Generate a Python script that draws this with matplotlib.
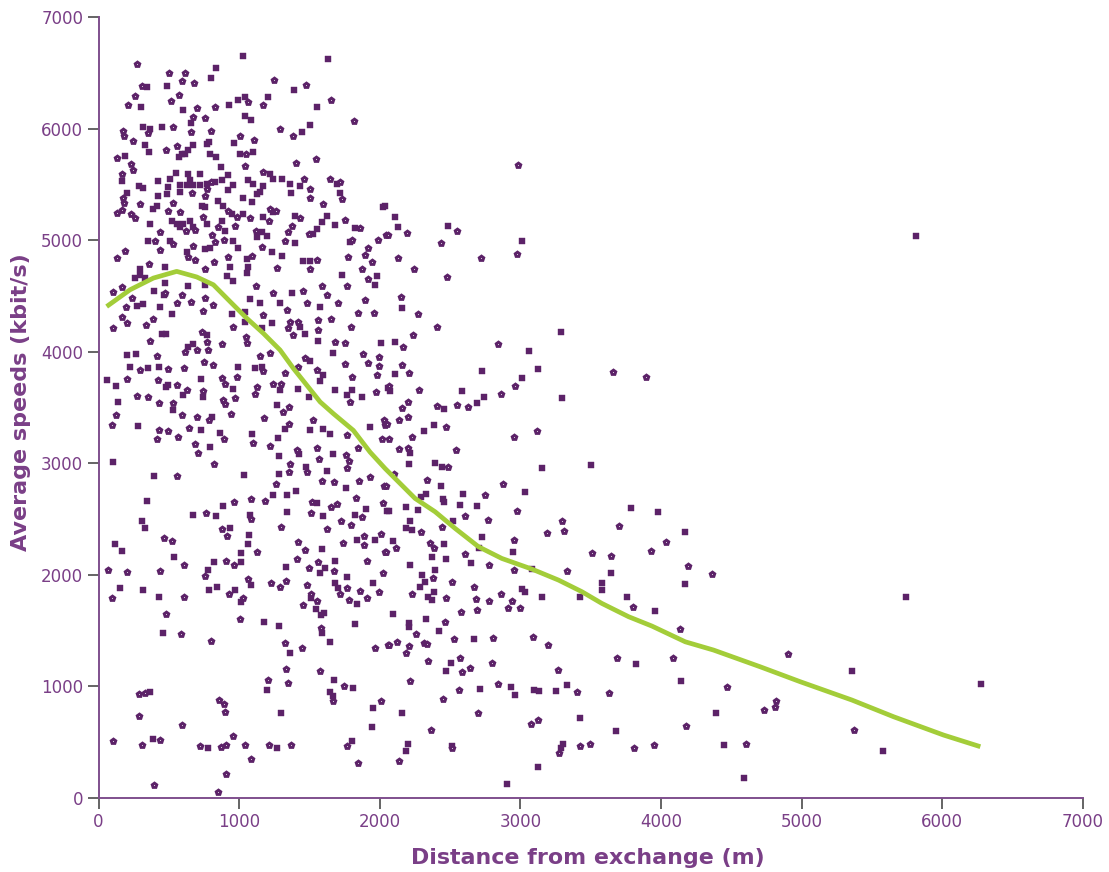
# Scatter of line speed against distance from the exchange, with a smoothed trend line.
import matplotlib
matplotlib.use("Agg")
import matplotlib.pyplot as plt

# (distance m, speed kbit/s), hollow markers
rings_upper = [(277,6580),(504,6500),(613,6500),(594,6430),(682,6410),(312,6385),(1250,6435),(1476,6390),(570,6300),(518,6250),(260,6290),(208,6215),(700,6185),(826,6190),(1060,6235),(1172,6215),(1650,6255),(1820,6070),(760,6095),(675,6105),(660,5965),(800,5975),(172,5975),(182,5930),(248,5890),(530,6010),(350,5960),(1007,5930),(1106,5895),(1291,5995),(1381,5930),(480,5810),(556,5840),(134,5735),(232,5685),(246,5630),(1547,5730),(1407,5690),(1042,5665),(1047,5775),(165,5595),(1172,5610),(1459,5550),(1649,5550),(1717,5520),(1504,5460),(1504,5375),(1730,5365),(1594,5325),(177,5380),(182,5330),(130,5245),(170,5270),(234,5230),(262,5195),(298,5320),(492,5260),(582,5250),(528,5330),(663,5425),(758,5395),(770,5460),(798,5525),(919,5260),(983,5210),(1078,5195),(1220,5275),(1262,5265),(1210,5175),(1433,5195),(1374,5130),(1350,5070),(1326,4995),(1500,5055),(1753,5185),(1860,5110),(1800,5000),(1985,5005),(2047,5050),(1919,4930),(1895,4870),(1943,4800),(1777,4850),(1552,4825),(1267,4750),(1160,4935),(1118,5080),(893,5005),(829,4980),(805,5050),(741,5205),(971,5125),(852,5115),(687,5095),(623,5080),(438,5075),(402,4990),(532,4965),(438,4915),(670,4950),(639,4845),(687,4820),(822,4800),(924,4850),(1094,4855),(189,4900),(130,4840),(362,4790),(758,4740),(1504,4740),(1870,4740)]
rings_middle = [(101,4537),(170,4576),(236,4480),(194,4405),(170,4315),(201,4255),(101,4216),(336,4240),(390,4294),(473,4525),(556,4441),(592,4510),(658,4444),(758,4480),(746,4369),(817,4423),(1118,4585),(1239,4525),(1338,4375),(1457,4540),(1480,4435),(1627,4510),(1587,4585),(1706,4441),(1895,4465),(1959,4345),(1848,4345),(1919,4650),(1765,4585),(1172,4330),(959,4220),(1047,4135),(1054,4075),(1362,4270),(1421,4270),(1350,4210),(1381,4150),(1559,4285),(1563,4195),(1654,4294),(1793,4219),(734,4180),(770,4090),(781,4015),(876,4069),(367,4099),(419,3964),(698,4015),(615,4000),(1682,4090),(1753,4081),(1883,3976),(1919,3901),(1997,3949),(1997,3871),(1983,3790),(1753,3886),(1805,3775),(1220,3985),(1149,3961),(1469,3940),(1421,3865),(1552,3835),(1326,3811),(1172,3826),(817,3880),(751,3904),(608,3850),(492,3841),(296,3835),(426,3745),(205,3754),(876,3760),(983,3769),(900,3709),(1113,3619),(1125,3685),(1244,3709),(1298,3709),(971,3589),(561,3706),(632,3655),(746,3649),(272,3601),(350,3595),(431,3541),(532,3544),(888,3571),(900,3529),(592,3430),(698,3415),(788,3385),(940,3445),(1177,3409),(1315,3460),(1355,3505),(1789,3550),(1971,3640),(2030,3391),(2037,3346),(2014,3220),(125,3430),(99,3346),(431,3301),(492,3286),(414,3220),(568,3235),(646,3319),(687,3175),(710,3091),(893,3214),(1101,3184),(1220,3154),(1355,3349),(1409,3115),(1552,3136),(1571,3040),(1528,3385),(1765,3250),(1848,3139),(1758,3076),(1784,3019),(1765,2956),(1362,2995),(1355,2926),(1480,2926),(1587,2845),(1677,2830),(1855,2845),(1931,2875),(2030,2800),(2021,2644),(1831,2686),(1694,2635),(1654,2611),(1516,2650),(1511,2551),(1725,2485),(1793,2449),(1872,2521),(824,2995),(561,2890),(1262,2815),(1085,2680),(1184,2665),(966,2650),(765,2554),(1085,2500),(1298,2425),(1627,2410),(876,2410)]
rings_lower = [(466,2330),(521,2300),(916,2345),(1125,2204),(905,2126),(964,2084),(611,2084),(438,2039),(70,2045),(201,2030),(758,1991),(1061,1964),(1227,1931),(1291,1895),(1331,1949),(1421,2291),(1469,2219),(1414,2141),(1500,2060),(1563,2111),(1677,2039),(1741,2285),(1907,2120),(2037,2204),(2026,2021),(1891,2270),(1888,2351),(2009,2369),(94,1790),(611,1805),(931,1829),(1030,1790),(1480,1910),(1511,1829),(1552,1769),(1457,1730),(1765,1880),(1718,1826),(1779,1778),(1860,1859),(1912,1790),(1997,1844),(1665,866),(478,1646),(585,1469),(798,1406),(1006,1601),(1326,1385),(1450,1340),(1582,1526),(1969,1340),(2056,1370),(1331,1154),(1575,1139),(1203,1061),(1350,1028),(1746,1001),(288,935),(331,941),(855,881),(893,839),(900,767),(288,737),(592,650),(106,509),(312,476),(438,521),(722,464),(869,461),(905,479),(954,554),(1042,476),(1213,479),(1369,476),(1082,350),(905,215),(395,119),(852,50),(1765,470),(1845,317),(2009,869)]
rings_far_top = [(2055,5050),(2192,5068),(2436,4976),(2552,5080),(2126,4841),(2244,4743),(2477,4668),(2721,4841),(2977,4874),(2152,4486),(2273,4342),(2405,4220),(2235,4154),(2166,4044),(2839,4065),(2157,3882),(2206,3808),(3660,3820),(3890,3772),(2066,3691),(2280,3655),(2963,3691),(2861,3620),(2550,3521),(2626,3506),(2408,3512),(2204,3551),(2157,3497),(2199,3416),(2138,3392),(2050,3351),(2474,3321),(3117,3288),(2956,3240),(2066,3222),(2230,3234),(2138,3124),(2199,3136),(2543,3121),(2104,2900),(2334,2849),(2045,2798),(2873,2813),(2749,2720),(2488,2968),(2985,5670)]
rings_far_low = [(2977,2571),(2607,2530),(2768,2491),(2441,2428),(2294,2380),(3299,2482),(3311,2392),(3186,2377),(3698,2440),(2951,2312),(4037,2294),(2116,2243),(2045,2201),(2358,2288),(2389,2237),(2607,2186),(3508,2198),(3646,2168),(3928,2210),(2773,2088),(2953,2040),(3328,2037),(2375,1968),(2512,1938),(2669,1893),(2232,1831),(2474,1789),(2861,1825),(2683,1780),(2773,1765),(2939,1768),(2915,1705),(2994,1699),(2688,1684),(2579,1663),(3802,1714),(4136,1517),(2462,1580),(2256,1466),(2529,1424),(2804,1433),(3086,1439),(3195,1368),(2062,1374),(2121,1400),(2206,1362),(2311,1392),(2339,1380),(2185,1296),(2346,1227),(2569,1257),(2797,1206),(3686,1257),(4087,1257),(3264,1147),(2643,1162),(2583,1132),(2216,1048),(2564,967),(2839,1018),(3404,952),(3627,938),(2453,887),(2695,764),(3076,660),(3124,696),(2363,612),(2515,445),(3276,400),(3425,466),(3496,481),(3811,451),(3947,475),(2140,328),(4179,642),(4191,2082),(4359,2004),(4900,1287),(4471,997),(4731,785),(4807,818),(4819,872),(4601,486),(5374,609)]

# filled square markers
squares_upper = [(1025,6650),(1630,6620),(833,6540),(1388,6345),(343,6375),(485,6380),(803,6455),(1208,6280),(995,6260),(1042,6280),(305,6195),(601,6165),(931,6210),(1552,6195),(1504,6030),(1450,5970),(1042,6110),(1082,6080),(658,6050),(319,6015),(367,6000),(454,6010),(331,5855),(362,5790),(675,5850),(639,5805),(592,5775),(575,5745),(615,5775),(788,5880),(770,5860),(964,5875),(793,5775),(836,5745),(1007,5775),(1101,5790),(189,5755),(871,5660),(551,5600),(639,5595),(722,5595),(924,5580),(165,5530),(423,5530),(291,5485),(314,5465),(509,5550),(580,5490),(627,5490),(675,5490),(722,5490),(770,5505),(876,5535),(829,5520),(497,5475),(485,5415),(426,5400),(580,5430),(651,5535),(959,5490),(924,5450),(1066,5535),(1101,5500),(1168,5485),(1220,5595),(1243,5550),(1303,5545),(1362,5505),(1433,5485),(1694,5500),(1369,5420),(1717,5425),(1125,5415),(1149,5430),(1090,5340),(1030,5375),(852,5355),(888,5310),(734,5310),(758,5295),(201,5420),(414,5310),(390,5275),(367,5145),(521,5175),(556,5145),(604,5145),(651,5175),(675,5115),(580,5115),(770,5145),(876,5175),(900,5085),(947,5235),(1030,5235),(1172,5205),(1243,5250),(1398,5220),(1623,5220),(1587,5160),(1552,5100),(1528,5055),(1682,5140),(1824,5110),(1160,5070),(1125,5025),(1196,5040),(1398,4970),(1789,4980),(2026,5300),(959,4995),(995,4930),(355,4990),(509,4990),(627,4890),(758,4920),(793,4930),(1232,4890),(1303,4855),(1457,4810),(1504,4810),(1054,4830),(935,4755),(1066,4755),(473,4755),(296,4740)]
squares_middle = [(296,4690),(260,4660),(331,4660),(397,4546),(466,4510),(473,4615),(272,4411),(319,4429),(438,4399),(525,4336),(639,4585),(758,4600),(912,4675),(959,4630),(1054,4705),(1078,4474),(1149,4435),(1291,4435),(1374,4525),(1575,4405),(1729,4690),(1978,4675),(1966,4594),(947,4336),(1042,4360),(1042,4270),(1232,4255),(1160,4210),(1433,4225),(1469,4156),(1563,4096),(450,4159),(480,4159),(675,4069),(639,4039),(774,4150),(201,3967),(267,3976),(224,3865),(355,3850),(433,3859),(58,3745),(125,3694),(729,3754),(990,3865),(959,3670),(480,3685),(497,3700),(741,3595),(604,3610),(141,3550),(532,3475),(1113,3850),(1160,3865),(1291,3655),(1421,3670),(1500,3595),(1504,3919),(1599,3790),(1575,3736),(1682,3655),(1670,3985),(2009,4075),(1765,3610),(1800,3661),(1872,3595),(2056,3679),(1272,3520),(805,3415),(279,3334),(729,3301),(864,3274),(1090,3265),(1274,3226),(1326,3310),(1504,3295),(1599,3310),(1646,3265),(1931,3325),(793,3145),(1286,3061),(1428,3085),(1670,3085),(106,3016),(397,2884),(1035,2899),(1286,2905),(1627,2929),(1476,2965),(1405,2755),(1338,2719),(1244,2719),(1760,2779),(348,2659),(888,2620),(1338,2560),(1594,2524),(1902,2590),(1552,2641),(675,2536),(836,2524),(1078,2539),(2049,2569),(1824,2539),(312,2479),(331,2419),(935,2419)]
squares_lower = [(118,2276),(165,2210),(537,2159),(824,2111),(781,2045),(1014,2195),(1066,2276),(1073,2360),(1011,2114),(1331,2066),(1587,2231),(1575,2015),(1611,2060),(1682,2120),(1765,1979),(1836,2315),(1966,2315),(153,1886),(319,1865),(433,1799),(788,1865),(845,1889),(971,1865),(1082,1910),(1014,1760),(1511,1790),(1545,1694),(1580,1640),(1606,1655),(1682,1925),(1706,1880),(1954,1925),(1836,1739),(461,1475),(1180,1574),(1286,1544),(1824,1559),(1592,1475),(1646,1394),(1362,1304),(1677,1055),(1812,989),(1646,950),(1670,914),(1196,971),(367,953),(1298,761),(1954,809),(1943,632),(386,530),(781,449),(1267,446),(1800,515)]
squares_far_top = [(2109,5203),(2128,5119),(2486,5125),(3010,4994),(2038,5304),(2157,4396),(3292,4181),(2109,4089),(3062,4005),(3126,3847),(2728,3829),(3012,3766),(2109,3796),(2071,3649),(2588,3649),(2740,3590),(2690,3536),(2458,3485),(3295,3584),(2315,3291),(2389,3342),(2216,3094),(2209,2998),(2394,3001),(2441,2968),(3152,2956),(3501,2983),(2434,2792),(3036,2744),(2595,2729),(2327,2723),(2294,2694),(2453,2679),(5810,5040)]
squares_far_low = [(2062,2574),(2187,2604),(2275,2580),(2460,2655),(2571,2628),(2692,2616),(3785,2595),(3977,2562),(2216,2485),(2185,2416),(2228,2401),(2522,2485),(2726,2335),(2097,2306),(2460,2273),(2948,2207),(2702,2237),(2368,2159),(2470,2141),(2650,2108),(2216,2088),(2394,2043),(3081,2052),(3643,2013),(2299,1998),(2322,1938),(2287,1893),(3579,1923),(3579,1863),(4172,2386),(4172,1914),(2389,1849),(2346,1804),(2370,1774),(3010,1870),(3034,1843),(3155,1801),(3425,1798),(3759,1801),(3954,1672),(2097,1646),(2330,1607),(2209,1565),(2209,1535),(2424,1499),(2673,1427),(2505,1206),(2470,1135),(3823,1200),(4139,1051),(2709,973),(2934,991),(2963,926),(3093,964),(3129,961),(3250,958),(3333,1009),(2161,761),(3427,717),(3676,603),(2204,483),(2187,424),(2512,469),(3306,481),(3287,445),(3126,274),(2908,128),(5741,1801),(5357,1138),(6273,1021),(4390,761),(4449,472),(5578,424),(4591,182)]

# smoothed trend
trend_x = [58,224,390,556,698,817,935,1054,1172,1291,1386,1481,1576,1670,1812,1931,2038,2251,2394,2536,2702,2868,3081,3271,3437,3579,3769,3935,4172,4373,4705,4990,5357,5654,6009,6270]
trend_y = [4405,4555,4660,4720,4670,4600,4450,4300,4165,4015,3850,3700,3550,3445,3295,3100,2953,2685,2565,2416,2252,2147,2052,1953,1849,1744,1625,1541,1400,1326,1176,1042,878,728,564,460]

ticks = [0, 1000, 2000, 3000, 4000, 5000, 6000, 7000]

purple = "#5c2268"
label_purple = "#7a3f87"
spine_purple = "#7f4f8d"

rings = rings_upper + rings_middle + rings_lower + rings_far_top + rings_far_low
squares = squares_upper + squares_middle + squares_lower + squares_far_top + squares_far_low

fig = plt.figure(figsize=(11.09, 8.72), dpi=100)
ax = fig.add_axes([98.5 / 1109, 1 - 798 / 872, 984.5 / 1109, 781 / 872])

ax.plot([p[0] for p in squares], [p[1] for p in squares], ls="none", marker="s",
        ms=5.0, mfc=purple, mec=purple, mew=0.3, zorder=2)
ax.plot([p[0] for p in rings], [p[1] for p in rings], ls="none", marker="p",
        ms=3.4, mfc="white", mec=purple, mew=2.1, zorder=3)
ax.plot(trend_x, trend_y, color="#a3cd39", lw=3.4, solid_capstyle="butt",
        solid_joinstyle="round", zorder=4)

ax.set_xlim(0, 7000)
ax.set_ylim(0, 7000)
ax.set_xticks(ticks)
ax.set_yticks(ticks)
ax.tick_params(axis="both", length=8, width=1.1, color="#3a3a3a", labelcolor=label_purple,
               labelsize=12, pad=3)

ax.spines["top"].set_visible(False)
ax.spines["right"].set_visible(False)
ax.spines["left"].set_color(spine_purple)
ax.spines["bottom"].set_color(spine_purple)
ax.spines["left"].set_linewidth(1.4)
ax.spines["bottom"].set_linewidth(1.4)

fig.text(588 / 1109, 1 - 858 / 872, "Distance from exchange (m)", ha="center", va="center",
         color=label_purple, fontsize=15.9, fontweight="bold")
fig.text(21 / 1109, 1 - 402 / 872, "Average speeds (kbit/s)", ha="center", va="center",
         rotation=90, color=label_purple, fontsize=16, fontweight="bold")

fig.savefig("out.png", dpi=100)
